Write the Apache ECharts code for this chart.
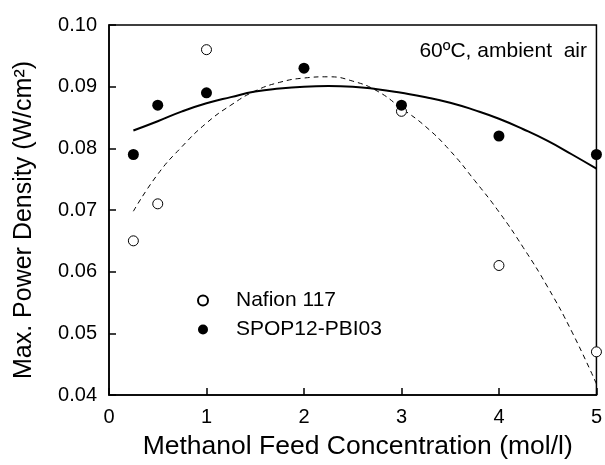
<!DOCTYPE html>
<html><head><meta charset="utf-8">
<script src="https://cdn.jsdelivr.net/npm/echarts@6/dist/echarts.min.js"></script>
<style>html,body{margin:0;padding:0;background:#fff}#c{width:605px;height:465px}</style>
</head><body><div id="c"></div>
<script>
const concX = [0.25, 0.5, 1, 2, 3, 4, 5];
const nafionX = [0.25, 0.5, 1, 3, 4, 5];
const nafionY = [0.065, 0.071, 0.096, 0.086, 0.061, 0.047];
const spopY = [0.079, 0.087, 0.089, 0.093, 0.087, 0.082, 0.079];
const fitX = [0.25,0.5,0.75,1,1.25,1.5,1.75,2,2.25,2.5,2.75,3,3.25,3.5,3.75,4,4.25,4.5,4.75,5];
const spopFit = [0.0829,0.0844,0.0860,0.0873,0.0883,0.0892,0.0897,0.0900,0.0901,0.0900,0.0896,0.0890,0.0883,0.0874,0.0862,0.0848,0.0831,0.0812,0.0790,0.0767];
const nafionFit = [0.0698,0.0758,0.0803,0.0841,0.0870,0.0893,0.0907,0.0914,0.0916,0.0909,0.0893,0.0865,0.0835,0.0796,0.0748,0.0697,0.0639,0.0575,0.0502,0.0418];
const xTicks = [0,1,2,3,4,5];
const yTicks = [0.04,0.05,0.06,0.07,0.08,0.09,0.10];
const seriesNames = ['Nafion 117', 'SPOP12-PBI03'];
const xTitle = 'Methanol Feed Concentration (mol/l)';
const yTitle = 'Max. Power Density (W/cm²)';
const note = '60ºC, ambient  air';

const F = '"Liberation Sans", Arial, sans-serif';
const zip = (xs, ys) => xs.map((x, i) => [x, ys[i]]);
const chart = echarts.init(document.getElementById('c'));
chart.setOption({
  animation: false,
  backgroundColor: '#fff',
  grid: { left: 109, top: 25, right: 7, bottom: 66, show: true, borderColor: '#000', borderWidth: 1.5, backgroundColor: 'transparent' },
  xAxis: {
    type: 'value', min: xTicks[0], max: xTicks[xTicks.length-1], interval: 1,
    name: xTitle, nameLocation: 'middle', nameGap: 38,
    nameTextStyle: { fontFamily: F, fontSize: 26.5, color: '#000', padding: [0,0,0,10] },
    axisLine: { lineStyle: { color: '#000', width: 1.5 } },
    axisTick: { inside: true, length: 7, lineStyle: { color: '#000', width: 1.5 } },
    axisLabel: { fontFamily: F, fontSize: 20, color: '#000', margin: 12 },
    splitLine: { show: false }
  },
  yAxis: {
    type: 'value', min: yTicks[0], max: yTicks[yTicks.length-1], interval: 0.01,
    name: yTitle, nameLocation: 'middle', nameGap: 72,
    nameTextStyle: { fontFamily: F, fontSize: 25, color: '#000', padding: [0,20,0,0] },
    axisLine: { lineStyle: { color: '#000', width: 1.5 } },
    axisTick: { inside: true, length: 7, lineStyle: { color: '#000', width: 1.5 } },
    axisLabel: { fontFamily: F, fontSize: 20, color: '#000', margin: 12, formatter: v => v.toFixed(2) },
    splitLine: { show: false }
  },
  legend: {
    orient: 'vertical', left: 192, top: 285, itemGap: 8,
    itemWidth: 10, itemHeight: 10,
    data: seriesNames,
    textStyle: { fontFamily: F, fontSize: 21, color: '#000', padding: [0,0,0,23] }
  },
  graphic: [{
    type: 'text', right: 18, top: 41,
    style: { text: note, font: '21px ' + F, fill: '#000' }
  }],
  series: [
    { name: 'nafionFit', type: 'line', data: zip(fitX, nafionFit), showSymbol: false, smooth: true,
      lineStyle: { color: '#000', width: 1, type: [5, 4] }, z: 1 },
    { name: 'spopFit', type: 'line', data: zip(fitX, spopFit), showSymbol: false, smooth: true,
      lineStyle: { color: '#000', width: 2 }, z: 1 },
    { name: seriesNames[0], type: 'scatter', data: zip(nafionX, nafionY), symbol: 'circle', symbolSize: 10, clip: false,
      itemStyle: { color: '#fff', borderColor: '#000', borderWidth: 1, opacity: 1 }, z: 3 },
    { name: seriesNames[1], type: 'scatter', data: zip(concX, spopY), symbol: 'circle', symbolSize: 11, clip: false,
      itemStyle: { color: '#000', opacity: 1 }, z: 4 }
  ]
});
</script></body></html>
